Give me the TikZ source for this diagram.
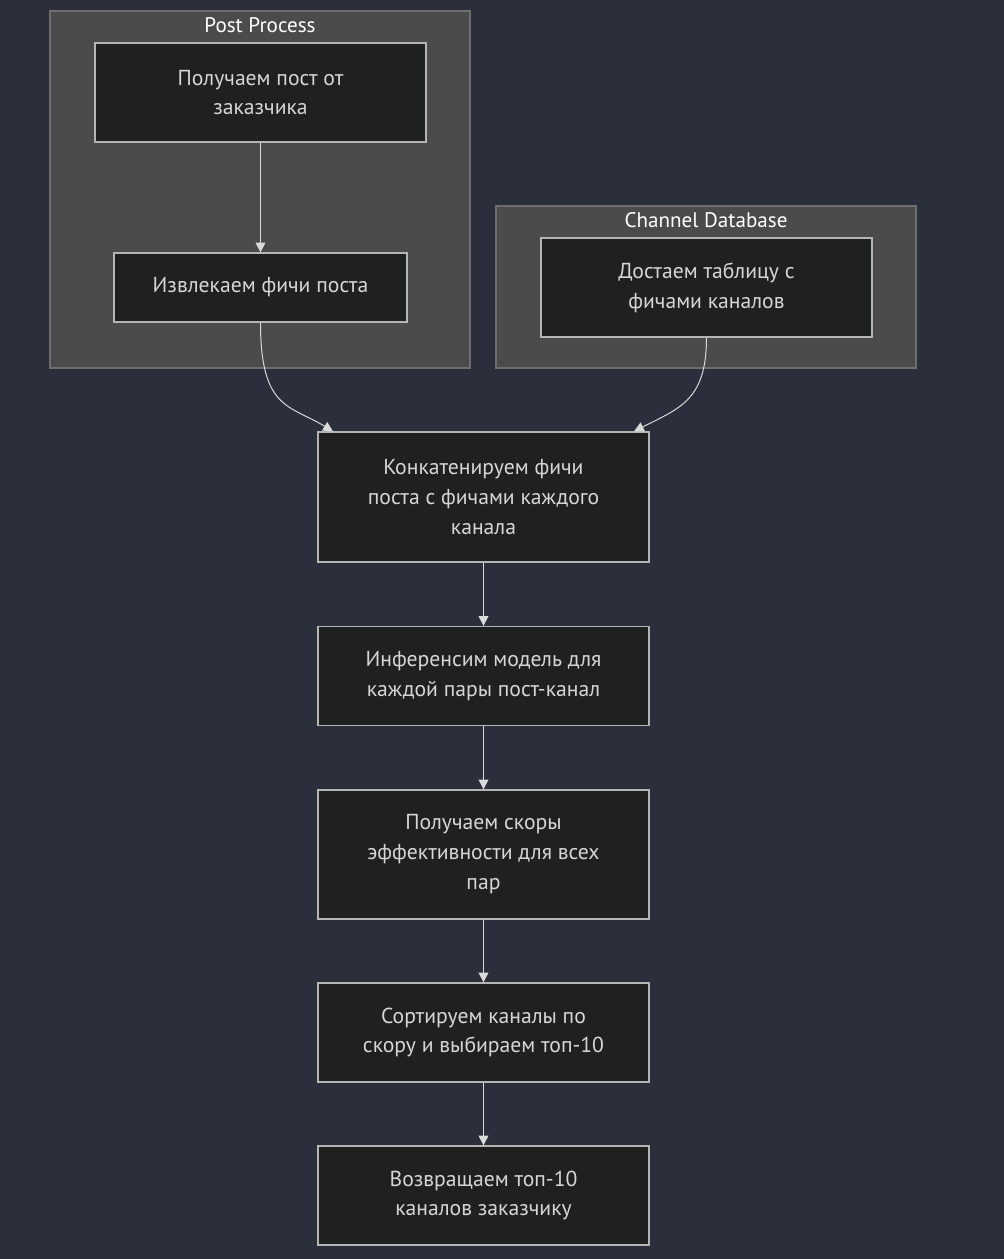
\documentclass[tikz,border=0pt]{standalone}
\usepackage{fontspec}
\setmainfont{PT Sans}
\usetikzlibrary{arrows.meta}
\definecolor{bgcol}{HTML}{2B2F3B}
\definecolor{clusterfill}{HTML}{4A4B4A}
\definecolor{clusterline}{HTML}{6E6E6E}
\definecolor{boxfill}{HTML}{1F2020}
\definecolor{boxline}{HTML}{B5B5B5}
\definecolor{textcol}{HTML}{D6D6D6}
\definecolor{linecol}{HTML}{DADADA}
\tikzset{
  procbox/.style={draw=boxline, fill=boxfill, line width=0.9pt, text=textcol, align=center,
    font=\fontsize{15.4}{21.3}\selectfont, inner sep=0pt, minimum width=8.275cm, minimum height=2.475cm},
  clusterbox/.style={draw=clusterline, fill=clusterfill, line width=0.8pt},
  clustertitle/.style={text=white, font=\fontsize{15}{17}\selectfont},
  flow/.style={draw=linecol, line width=0.7pt, -{Triangle[length=7pt,width=7pt]}}
}
\begin{document}
\begin{tikzpicture}[x=0.025cm,y=-0.025cm]
  \useasboundingbox[fill=bgcol] (0,0) rectangle (1004,1259);

  % Post Process cluster
  \draw[clusterbox] (50,11) rectangle (470,368);
  \node[clustertitle] (pptitle) at (260,25.5) {Post Process};
  \node[procbox] (getpost) at (260.5,92.5) {Получаем пост от\\заказчика};
  \node[procbox, minimum width=7.325cm, minimum height=1.725cm] (extract) at (260.5,287.5) {Извлекаем фичи поста};

  % Channel Database cluster
  \draw[clusterbox] (496,206) rectangle (916,368);
  \node[clustertitle] (dbtitle) at (706,220.5) {Channel Database};
  \node[procbox] (table) at (706.5,287.5) {Достаем таблицу с\\фичами каналов};

  % Main chain
  \node[procbox, minimum height=3.25cm] (concat) at (483.5,497) {Конкатенируем фичи\\поста с фичами каждого\\канала};
  \node[procbox] (infer) at (483.5,676) {Инференсим модель для\\каждой пары пост-канал};
  \node[procbox, minimum height=3.225cm] (scores) at (483.5,854.5) {Получаем скоры\\эффективности для всех\\пар};
  \node[procbox] (sort) at (483.5,1032.5) {Сортируем каналы по\\скору и выбираем топ-10};
  \node[procbox] (ret) at (483.5,1195.5) {Возвращаем топ-10\\каналов заказчику};

  % Connectors
  \draw[flow] (getpost) -- (extract);
  \draw[flow] (extract.south) .. controls (260.5,410) and (290,405) .. (concat.north -| 333,0);
  \draw[flow] (table.south) .. controls (706.5,400) and (680,408) .. (concat.north -| 634,0);
  \draw[flow] (concat) -- (infer);
  \draw[flow] (infer) -- (scores);
  \draw[flow] (scores) -- (sort);
  \draw[flow] (sort) -- (ret);

\end{tikzpicture}
\end{document}
